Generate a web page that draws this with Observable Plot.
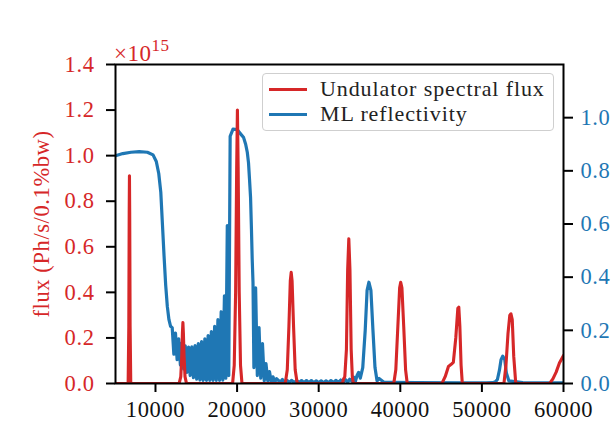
<!DOCTYPE html>
<html>
<head>
<meta charset="utf-8">
<script src="https://cdn.jsdelivr.net/npm/d3@7"></script>
<script src="https://cdn.jsdelivr.net/npm/@observablehq/plot@0.6"></script>
<style>
  body { margin: 0; background: #fff; }
  #wrap { position: relative; width: 612px; height: 422px; font-family: "Liberation Serif", serif; }
  #legend { position: absolute; left: 262px; top: 73px; width: 290px; height: 56px;
    border: 1.5px solid #cfcfcf; border-radius: 4px; background: rgba(255,255,255,0.85); }
  .row { position: absolute; left: 0; height: 24px; display: flex; align-items: center; }
  .sw { width: 38px; height: 0; border-top: 3px solid; margin-left: 6px; margin-right: 13px; }
  .lt { font-size: 22px; letter-spacing: 0.9px; color: #222; }
  #mult { position: absolute; left: 114px; top: 37px; font-size: 23px; color: #d62728; letter-spacing: 0.5px; }
  #mult sup { font-size: 17px; position: relative; top: -1px; }
</style>
</head>
<body>
<div id="wrap">
  <div id="chart"></div>
  <div id="mult">×10<sup>15</sup></div>
  <div id="legend"></div>
</div>
<script>
// ---- Data ----
// Undulator spectral flux, in units of 1e15 Ph/s/0.1%bw (left axis)
const fluxEnergy = [5100, 6650, 6730, 6780, 6810, 6840, 6890, 6970,
  12900, 13100, 13220, 13300, 13360, 13420, 13500, 13620, 13800,
  19450, 19650, 19820, 19950, 20040, 20130, 20260, 20420, 20600,
  25900, 26150, 26350, 26520, 26630, 26740, 26920, 27120, 27370,
  32900, 33050, 33200, 33400, 33550, 33690, 33830, 33980, 34120, 34250,
  39200, 39450, 39700, 39920, 40050, 40200, 40420, 40650, 40850,
  45100, 45500, 45900, 46200, 46500, 46800, 47050, 47170, 47300, 47450, 47600,
  52700, 52950, 53200, 53420, 53560, 53720, 53900, 54150,
  58300, 58700, 59100, 59500, 60000];
const fluxValue = [0, 0, 0.25, 0.75, 0.912, 0.75, 0.25, 0,
  0, 0.03, 0.12, 0.22, 0.267, 0.22, 0.12, 0.03, 0,
  0, 0.08, 0.4, 0.95, 1.2, 0.95, 0.4, 0.08, 0,
  0, 0.06, 0.25, 0.45, 0.488, 0.45, 0.25, 0.06, 0,
  0, 0.02, 0.03, 0.15, 0.5, 0.635, 0.5, 0.15, 0.03, 0,
  0, 0.06, 0.25, 0.42, 0.444, 0.42, 0.25, 0.06, 0,
  0, 0.03, 0.075, 0.083, 0.093, 0.2, 0.33, 0.335, 0.25, 0.08, 0,
  0, 0.08, 0.22, 0.3, 0.306, 0.28, 0.12, 0,
  0, 0.02, 0.05, 0.09, 0.123];

// ML reflectivity (right axis)
const reflEnergy = [5100, 6000, 7000, 8000, 9000, 9700, 10100, 10400, 10650, 10850, 11050, 11250, 11450, 11650, 11850,
  12050, 12250, 12450, 12650, 12850, 13050, 13250, 13450, 13650, 13850, 14050, 14250, 14450, 14650,
  14850, 15050, 15250, 15450, 15650, 15850, 16050, 16250, 16450, 16650, 16850, 17050, 17250, 17450,
  17650, 17850, 18050, 18250, 18450, 18620, 18800, 18980, 19150, 19500, 20000, 20400, 20800, 21050,
  21250, 21400, 21520, 21650, 21760, 21850, 21950, 22060, 22270, 22480, 22690, 22900, 23110, 23330,
  23540, 23760, 23970, 24190, 24400, 24620, 24830, 25300, 25550, 25800, 26100, 26400, 26700, 27000,
  27300, 27600, 27900, 28200, 28500, 28800, 29100, 29400, 29700, 30000, 30300, 30600, 30900, 31200,
  31500, 31800, 32100, 32400, 32700, 33000, 33300, 33550, 33800, 34100, 34300, 34500, 34700, 34900,
  35100, 35400, 35700, 35930, 36150, 36400, 36650, 36900, 37150, 37400, 38000, 39000, 42000, 48000,
  50500, 51300, 51650, 51900, 52150, 52350, 52550, 52800, 53000, 53300, 55000, 60000];
const reflValue = [0.857, 0.865, 0.87, 0.872, 0.87, 0.86, 0.835, 0.79, 0.72, 0.6, 0.48, 0.37, 0.29, 0.24, 0.215,
  0.21, 0.11, 0.19, 0.09, 0.168, 0.07, 0.152, 0.055, 0.142, 0.042, 0.137, 0.03, 0.138, 0.022,
  0.143, 0.016, 0.15, 0.013, 0.158, 0.012, 0.168, 0.012, 0.18, 0.012, 0.195, 0.012, 0.215, 0.012,
  0.24, 0.012, 0.27, 0.013, 0.33, 0.02, 0.594, 0.03, 0.93, 0.957, 0.955, 0.94, 0.925, 0.9, 0.87,
  0.83, 0.77, 0.7, 0.58, 0.47, 0.38, 0.06, 0.36, 0.03, 0.21, 0.02, 0.15, 0.01, 0.075, 0.01,
  0.045, 0.005, 0.025, 0.005, 0.018, 0.005, 0.015, 0.004, 0.012, 0.004, 0.012, 0.003, 0.012, 0.003,
  0.011, 0.003, 0.011, 0.003, 0.011, 0.003, 0.01, 0.003, 0.01, 0.003, 0.01, 0.003, 0.011, 0.003,
  0.012, 0.004, 0.013, 0.004, 0.014, 0.005, 0.016, 0.008, 0.024, 0.008, 0.03, 0.042, 0.02, 0.06,
  0.2, 0.35, 0.381, 0.35, 0.2, 0.06, 0.01, 0.019, 0.005, 0.004, 0.003, 0.002, 0.002, 0.003,
  0.006, 0.015, 0.05, 0.09, 0.103, 0.09, 0.04, 0.01, 0.003, 0.002, 0.001];

// Axes ticks
const xTicks = [10000, 20000, 30000, 40000, 50000, 60000];
const leftTicks = [0, 0.2, 0.4, 0.6, 0.8, 1.0, 1.2, 1.4];
const rightTicks = [0, 0.2, 0.4, 0.6, 0.8, 1.0];
const xDomain = [5100, 60000];
const leftDomain = [0, 1.4];
const rightDomain = [0, 1.2];
const seriesNames = ["Undulator spectral flux", "ML reflectivity"];

// ---- Build chart ----
const red = "#d62728";
const blue = "#1f77b4";
const k = leftDomain[1] / rightDomain[1]; // map right-axis values onto the left scale

const flux = fluxEnergy.map((e, i) => ({e, v: fluxValue[i]}));
const refl = reflEnergy.map((e, i) => ({e, v: reflValue[i] * k}));

const chart = Plot.plot({
  width: 612,
  height: 422,
  marginLeft: 115,
  marginRight: 49,
  marginTop: 64,
  marginBottom: 39,
  style: {fontFamily: "Liberation Serif, serif", fontSize: "22.5px", letterSpacing: "0.6px", background: "white", overflow: "visible"},
  x: {domain: xDomain},
  y: {domain: leftDomain},
  marks: [
    Plot.line(refl, {x: "e", y: "v", stroke: blue, strokeWidth: 3.2, clip: true}),
    Plot.line(flux, {x: "e", y: "v", stroke: red, strokeWidth: 3.1, clip: true}),
    Plot.axisX({ticks: xTicks, tickSize: 9, tickPadding: 9, tickFormat: d => String(d), fontSize: 22.5,
      stroke: "black", strokeWidth: 2, fill: "#111", label: null}),
    Plot.axisY({anchor: "left", ticks: leftTicks, tickSize: 9, tickPadding: 12, fontSize: 22.5,
      tickFormat: d => d.toFixed(1), stroke: "black", strokeWidth: 2, fill: red,
      label: "flux (Ph/s/0.1%bw)", labelAnchor: "center", labelArrow: "none", labelOffset: 82}),
    Plot.axisY(rightTicks.map(t => t * k), {anchor: "right", tickSize: 9, tickPadding: 8, fontSize: 22.5,
      tickFormat: d => (d / k).toFixed(1), stroke: "black", strokeWidth: 2, fill: blue, label: null}),
    Plot.frame({stroke: "black", strokeWidth: 2})
  ]
});
document.getElementById("chart").appendChild(chart);

// Legend
const legend = document.getElementById("legend");
[[seriesNames[0], red, 3], [seriesNames[1], blue, 28]].forEach(([name, color, top]) => {
  const row = document.createElement("div");
  row.className = "row";
  row.style.top = top + "px";
  row.innerHTML = `<div class="sw" style="border-color:${color}"></div><span class="lt">${name}</span>`;
  legend.appendChild(row);
});
</script>
</body>
</html>
